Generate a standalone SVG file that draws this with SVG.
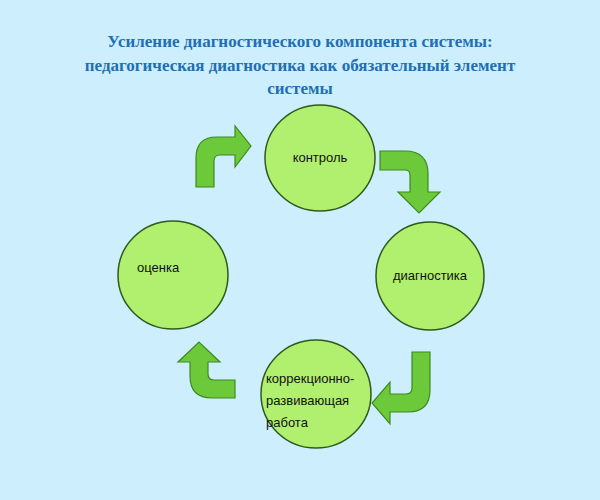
<svg xmlns="http://www.w3.org/2000/svg" width="600" height="500" viewBox="0 0 600 500">
<style>
.t{font-family:"Liberation Serif",serif;font-weight:bold;font-size:17px;fill:#1f6fb2;text-anchor:middle}
.n{fill:#b0f06e;stroke:#2f5a1c;stroke-width:1.5}
.l{font-family:"Liberation Sans",Arial,sans-serif;font-size:13px;fill:#111}
.a{fill:#6cc93a;stroke:#3f8a1e;stroke-width:1.2}
</style>
<rect width="600" height="500" fill="#cdeefd"/>
<g id="title">
<text class="t" x="300" y="47">Усиление диагностического компонента системы:</text>
<text class="t" x="300" y="71">педагогическая диагностика как обязательный элемент</text>
<text class="t" x="300" y="94">системы</text>
</g>
<g id="connectors">
<path class="a" d="M196,187 L196,158 Q196,137 217,137 L235,137 L235,126 L251,146 L235,167 L235,155 L220,155 Q214,155 214,161 L214,187 Z"/>
<path class="a" d="M380,151 L405,151 Q428,151 428,174 L428,192 L440,192 L419,213 L398,192 L410,192 L410,175 Q410,170 405,170 L380,170 Z"/>
<path class="a" d="M430,352 L430,390 Q430,412 408,412 L390,412 L390,424 L372,403 L390,382 L390,394 L406,394 Q412,394 412,388 L412,352 Z"/>
<path class="a" d="M235,398 L212,398 Q190,398 190,376 L190,362 L178,362 L199,342 L220,362 L208,362 L208,374 Q208,380 214,380 L235,380 Z"/>
</g>
<g id="kontrol"><ellipse class="n" cx="320" cy="158" rx="55" ry="53"/><text class="l" x="320" y="162" text-anchor="middle">контроль</text></g>
<g id="diagnostika"><ellipse class="n" cx="430" cy="276" rx="54" ry="54"/><text class="l" x="430" y="280" text-anchor="middle">диагностика</text></g>
<g id="korr"><ellipse class="n" cx="316" cy="394" rx="55" ry="54"/><text class="l" x="266" y="383">коррекционно-</text><text class="l" x="266" y="405">развивающая</text><text class="l" x="266" y="427">работа</text></g>
<g id="ocenka"><ellipse class="n" cx="173" cy="275" rx="55" ry="54"/><text class="l" x="137" y="272">оценка</text></g>
</svg>
